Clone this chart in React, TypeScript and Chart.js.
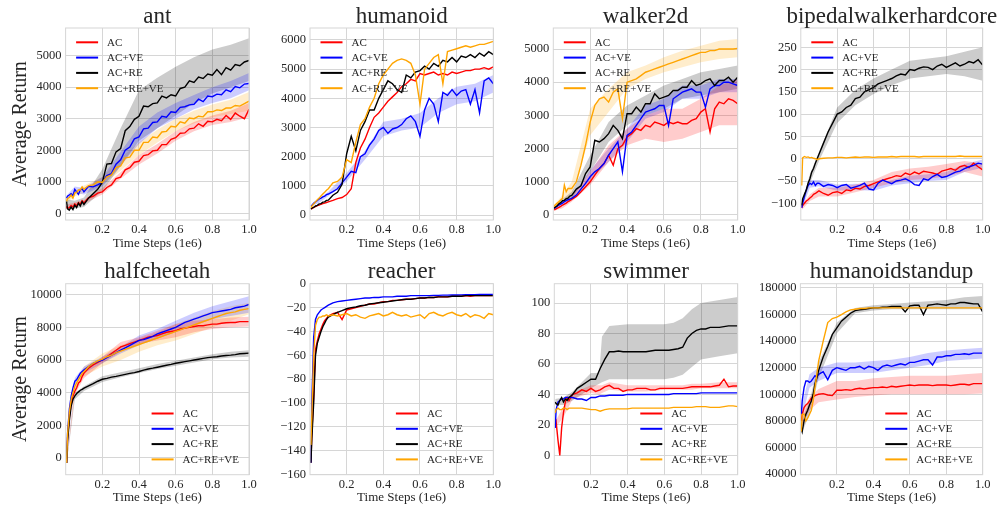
import React, { useEffect, useRef } from "react";
import { Chart, registerables } from "chart.js";

Chart.register(...registerables);

const SERIF = "'Liberation Serif', 'Times New Roman', Times, serif";
const TEXT = "#262626";
const GRID = "#d6d6d6";

// ---------- shared categories ----------
const seriesNames = ["AC", "AC+VE", "AC+RE", "AC+RE+VE"];
const seriesColors = ["#ff0000", "#0000ff", "#000000", "#ffa500"];
const bandColors = ["rgba(255,0,0,0.2)", "rgba(0,0,255,0.2)", "rgba(0,0,0,0.2)", "rgba(255,165,0,0.2)"];
const xTicks = [0.2, 0.4, 0.6, 0.8, 1.0];

// time steps (1e6) of the logged evaluations
const steps = [
  0.005, 0.01, 0.02, 0.03, 0.04, 0.05, 0.06, 0.07, 0.08, 0.09,
  0.1, 0.125, 0.15, 0.175, 0.2, 0.225, 0.25, 0.275, 0.3, 0.325,
  0.35, 0.375, 0.4, 0.425, 0.45, 0.475, 0.5, 0.525, 0.55, 0.575,
  0.6, 0.625, 0.65, 0.675, 0.7, 0.725, 0.75, 0.775, 0.8, 0.825,
  0.85, 0.875, 0.9, 0.925, 0.95, 0.975, 1.0,
];
const bandSteps = [0.005, 0.05, 0.1, 0.2, 0.3, 0.4, 0.5, 0.6, 0.7, 0.8, 0.9, 1.0];
const swimBandSteps = [0.005, 0.05, 0.1, 0.2, 0.245, 0.26, 0.3, 0.4, 0.5, 0.6, 0.65, 0.7, 0.75, 0.8, 0.9, 1.0];

// ---------- ant ----------
const antTicks = [0, 1000, 2000, 3000, 4000, 5000];
const antAC = [
  220, 160, 180, 250, 200, 300, 240, 340, 290, 400,
  330, 500, 540, 640, 680, 820, 900, 1100, 1150, 1380,
  1450, 1620, 1650, 1830, 1860, 1980, 2000, 2180, 2180, 2350,
  2400, 2540, 2550, 2680, 2700, 2840, 2760, 2920, 2900, 2980,
  2940, 3100, 2980, 3180, 3080, 3000, 3300,
];
const antVE = [
  480, 540, 580, 620, 560, 760, 680, 600, 740, 780,
  680, 860, 840, 900, 980, 1200, 1260, 1560, 1700, 2000,
  2100, 2360, 2420, 2680, 2700, 2880, 2900, 3080, 3050, 3220,
  3200, 3360, 3380, 3440, 3460, 3620, 3540, 3720, 3700, 3780,
  3760, 3920, 3860, 4020, 3980, 4100, 4120,
];
const antRE = [
  380, 150, 100, 200, 120, 260, 180, 320, 230, 370,
  280, 480, 620, 760, 980, 1560, 1580, 1950, 2050, 2620,
  2750, 2980, 3080, 3400, 3380, 3480, 3500, 3720, 3660, 3760,
  3720, 3960, 4000, 4200, 4150, 4320, 4280, 4420, 4380, 4560,
  4400, 4620, 4540, 4720, 4680, 4800, 4850,
];
const antREVE = [
  380, 470, 500, 580, 480, 640, 660, 740, 740, 840,
  760, 880, 900, 1000, 980, 1160, 1220, 1450, 1500, 1760,
  1780, 2000, 2000, 2250, 2250, 2420, 2400, 2580, 2600, 2760,
  2740, 2900, 2860, 3020, 3000, 3080, 3060, 3220, 3220, 3280,
  3260, 3340, 3340, 3420, 3400, 3480, 3560,
];
const antACLo = [150, 220, 300, 600, 1100, 1550, 1900, 2300, 2600, 2800, 2900, 3050];
const antACHi = [280, 340, 420, 800, 1300, 1850, 2200, 2600, 2900, 3100, 3250, 3500];
const antVELo = [400, 650, 600, 850, 1500, 2200, 2700, 3000, 3300, 3500, 3650, 3900];
const antVEHi = [560, 850, 800, 1150, 1950, 2750, 3200, 3500, 3750, 4000, 4200, 4450];
const antRELo = [100, 150, 200, 700, 1500, 2300, 2700, 3100, 3500, 3800, 4000, 4200];
const antREHi = [450, 400, 500, 1400, 2700, 3900, 4300, 4650, 4950, 5200, 5350, 5550];
const antREVELo = [320, 540, 650, 900, 1350, 1850, 2250, 2600, 2850, 3050, 3150, 3250];
const antREVEHi = [460, 700, 880, 1150, 1750, 2250, 2650, 3000, 3250, 3450, 3600, 3850];

// ---------- humanoid ----------
const humTicks = [0, 1000, 2000, 3000, 4000, 5000, 6000];
const humAC = [
  200, 220, 260, 290, 320, 340, 370, 390, 410, 430,
  450, 500, 560, 600, 700, 900, 1800, 2300, 2600, 3000,
  3350, 3500, 3700, 3900, 4050, 4200, 4400, 4500, 4650, 4600,
  4850, 4800, 4850, 4900, 4800, 4850, 4800, 4900, 4850, 4900,
  4950, 4950, 5000, 5000, 5050, 5000, 5080,
];
const humVE = [
  300, 330, 400, 450, 500, 550, 580, 620, 650, 700,
  720, 800, 900, 1100, 1300, 1500, 1450, 2000, 2100, 2400,
  2600, 2900, 3000, 2800, 2950, 3000, 3100, 3300, 3400, 3200,
  2700, 3600, 4000, 3800, 3200, 4200, 4100, 4300, 4100, 4250,
  4300, 3800, 4300, 3500, 4600, 4700, 4500,
];
const humRE = [
  200, 240, 260, 310, 330, 380, 390, 440, 450, 500,
  510, 680, 780, 1050, 2100, 2700, 2200, 2900, 3200, 3600,
  3600, 4000, 4300, 4600, 4500, 4300, 4200, 4800, 4700, 4900,
  4950, 5100, 5000, 5200, 5100, 5300, 5250, 5400, 5250, 5450,
  5400, 5500, 5400, 5550, 5450, 5600, 5500,
];
const humREVE = [
  250, 300, 380, 450, 520, 580, 650, 720, 780, 850,
  900, 1100, 1150, 1300, 1900, 1800, 2500, 3100, 3300, 3700,
  4000, 4500, 4800, 5000, 5200, 5300, 5350, 5300, 5200, 4800,
  3800, 5000, 5200, 5400, 5500, 4500, 5600, 5650, 5700, 5750,
  5800, 5750, 5800, 5850, 5850, 5900, 5950,
];
const humVELo = [280, 420, 650, 1150, 1900, 2700, 2900, 3000, 3500, 3800, 3900, 4200];
const humVEHi = [340, 560, 800, 1450, 2200, 3200, 3300, 3500, 4000, 4400, 4500, 4800];

// ---------- walker2d ----------
const walkTicks = [0, 1000, 2000, 3000, 4000, 5000];
const walkAC = [
  150, 170, 200, 230, 260, 300, 330, 360, 400, 430,
  470, 560, 700, 850, 1000, 1200, 1400, 1550, 1800, 1500,
  2000, 2100, 2350, 2450, 2600, 2550, 2700, 2650, 2800, 2750,
  2700, 2800, 2750, 2800, 2750, 2750, 2850, 2900, 3100, 3200,
  2500, 3200, 3400, 3350, 3500, 3450, 3350,
];
const walkVE = [
  200, 220, 260, 300, 330, 360, 400, 430, 460, 480,
  500, 600, 780, 950, 1150, 1300, 1400, 1550, 1800, 2000,
  2200, 1300, 2400, 2500, 2700, 2900, 3100, 3150, 3200, 3300,
  3300, 2700, 3500, 3600, 3700, 3750, 3800, 3700, 3700, 3250,
  3800, 3900, 3900, 4000, 4000, 3950, 3900,
];
const walkRE = [
  200, 240, 270, 340, 370, 430, 440, 490, 510, 570,
  590, 780, 880, 1250, 1450, 2250, 2200, 2300, 2450, 2700,
  2550, 2300, 3050, 3050, 3250, 3100, 3350, 3350, 3650, 3500,
  3550, 3600, 3750, 3750, 3850, 3850, 4050, 3900, 3950, 4050,
  4100, 3900, 4050, 4050, 4150, 4000, 4150,
];
const walkREVE = [
  250, 300, 350, 400, 450, 500, 900, 700, 800, 800,
  800, 1000, 1500, 2100, 2800, 3300, 3500, 3550, 3400, 3700,
  3800, 2900, 4000, 4050, 4100, 4200, 4300, 4350, 4400, 4450,
  4500, 4550, 4600, 4650, 4700, 4750, 4800, 4850, 4900, 4900,
  4950, 4950, 5000, 5000, 5000, 5000, 5020,
];
const walkACLo = [130, 200, 400, 900, 1600, 2100, 2300, 2200, 2300, 2500, 2700, 2700];
const walkACHi = [180, 300, 550, 1300, 2100, 2600, 3000, 3200, 3200, 3500, 3900, 4100];
const walkVELo = [180, 300, 450, 1050, 1600, 2200, 2900, 3100, 3500, 3500, 3700, 3700];
const walkVEHi = [230, 400, 550, 1350, 2000, 2600, 3300, 3500, 3900, 3900, 4100, 4100];
const walkRELo = [180, 350, 500, 1300, 2200, 2700, 3000, 3200, 3500, 3600, 3700, 3800];
const walkREHi = [230, 480, 700, 1800, 2800, 3300, 3600, 3900, 4100, 4300, 4400, 4500];
const walkREVELo = [200, 400, 600, 2400, 3100, 3800, 4100, 4300, 4450, 4600, 4700, 4750];
const walkREVEHi = [300, 600, 1000, 3200, 3800, 4300, 4500, 4750, 4950, 5100, 5250, 5300];

// ---------- bipedalwalkerhardcore ----------
const bipTicks = [-100, -50, 0, 50, 100, 150, 200, 250];
const bipAC = [
  -110, -105, -100, -95, -92, -88, -85, -80, -78, -75,
  -72, -78, -82, -76, -74, -78, -70, -72, -66, -68,
  -62, -60, -56, -52, -48, -45, -42, -38, -40, -32,
  -36, -30, -34, -28, -30, -32, -35, -28, -25, -22,
  -26, -18, -15, -20, -10, -18, -25,
];
const bipVE = [
  -110, -100, -85, -70, -60, -55, -58, -52, -60, -55,
  -55, -62, -58, -60, -65, -60, -58, -66, -63, -60,
  -55, -68, -70, -55, -48, -52, -56, -50, -48, -45,
  -50, -58, -60, -45, -48, -40, -35, -42, -40, -35,
  -30, -28, -22, -18, -15, -10, -12,
];
const bipRE = [
  -105, -90, -80, -70, -55, -45, -30, -22, -10, 0,
  10, 35, 60, 80, 100, 105, 115, 120, 135, 138,
  150, 155, 160, 168, 172, 176, 180, 186, 190, 188,
  200, 198, 203, 206, 205, 200, 208, 212, 205, 210,
  215, 208, 212, 218, 215, 222, 210,
];
const bipREVE = [
  -60, 2, 5, 3, 4, 2, 3, 1, 0, -2,
  0, 1, 2, 2, 3, 3, 2, 3, 4, 3,
  4, 4, 3, 4, 4, 4, 5, 4, 5, 5,
  5, 5, 4, 5, 5, 5, 5, 5, 5, 5,
  5, 6, 5, 5, 5, 5, 5,
];
const bipACLo = [-115, -95, -85, -85, -75, -65, -55, -48, -45, -40, -30, -40];
const bipACHi = [-105, -80, -65, -65, -58, -48, -30, -22, -18, -12, -5, -10];
const bipVELo = [-115, -65, -62, -72, -70, -72, -60, -55, -50, -48, -30, -20];
const bipVEHi = [-105, -48, -48, -58, -56, -58, -48, -38, -35, -30, -12, -2];
const bipRELo = [-110, -55, -5, 80, 120, 145, 165, 180, 185, 190, 185, 175];
const bipREHi = [-100, -35, 15, 115, 155, 180, 200, 220, 225, 230, 240, 250];

// ---------- halfcheetah ----------
const hcTicks = [0, 2000, 4000, 6000, 8000, 10000];
const hcAC = [
  -300, 1200, 2500, 3300, 3800, 4100, 4300, 4600, 4700, 5000,
  5200, 5500, 5700, 5850, 6000, 6200, 6400, 6600, 6800, 6900,
  7000, 7100, 7200, 7300, 7400, 7450, 7500, 7600, 7700, 7750,
  7800, 7900, 7950, 8000, 8050, 8100, 8100, 8150, 8200, 8200,
  8250, 8280, 8300, 8300, 8350, 8350, 8350,
];
const hcVE = [
  -300, 1500, 3000, 3800, 4300, 4700, 4800, 5000, 5200, 5300,
  5400, 5600, 5800, 5900, 6000, 6150, 6300, 6450, 6600, 6750,
  6900, 7050, 7200, 7250, 7350, 7450, 7600, 7700, 7800, 7900,
  8000, 8150, 8300, 8400, 8500, 8600, 8700, 8800, 8900, 8950,
  9000, 9050, 9100, 9200, 9250, 9300, 9400,
];
const hcRE = [
  -300, 1000, 2300, 3200, 3600, 3800, 3950, 4050, 4150, 4200,
  4280, 4420, 4550, 4700, 4820, 4880, 4950, 5000, 5060, 5120,
  5180, 5230, 5300, 5380, 5450, 5500, 5560, 5620, 5680, 5730,
  5800, 5850, 5900, 5950, 6000, 6050, 6100, 6150, 6180, 6200,
  6250, 6280, 6300, 6330, 6380, 6400, 6420,
];
const hcREVE = [
  -300, 1400, 2800, 3600, 4000, 4400, 4600, 4800, 5000, 5200,
  5300, 5600, 5800, 5950, 6050, 6200, 6300, 6450, 6550, 6650,
  6750, 6850, 6950, 7050, 7150, 7250, 7350, 7450, 7550, 7650,
  7750, 7850, 7950, 8050, 8150, 8250, 8350, 8450, 8550, 8650,
  8750, 8850, 8900, 8950, 9050, 9100, 9150,
];
const hcACLo = [-350, 3900, 4900, 5800, 6500, 7000, 7200, 7400, 7700, 7900, 8000, 8050];
const hcACHi = [-250, 4300, 5300, 6200, 7100, 7400, 7800, 8200, 8400, 8500, 8600, 8650];
const hcVELo = [-350, 4500, 5200, 5800, 6400, 6900, 7300, 7700, 8100, 8500, 8700, 8900];
const hcVEHi = [-250, 4900, 5600, 6200, 6800, 7500, 7900, 8400, 8900, 9300, 9600, 9900];
const hcRELo = [-350, 3600, 4100, 4650, 4950, 5200, 5450, 5650, 5850, 6050, 6150, 6200];
const hcREHi = [-250, 4000, 4400, 5000, 5250, 5500, 5750, 5950, 6150, 6350, 6500, 6600];
const hcREVELo = [-350, 4200, 5000, 5600, 6000, 6500, 6900, 7200, 7600, 8000, 8400, 8800];
const hcREVEHi = [-250, 4600, 5600, 6400, 6900, 7300, 7700, 8200, 8600, 9000, 9300, 9500];

// ---------- reacher ----------
const reachTicks = [-160, -140, -120, -100, -80, -60, -40, -20, 0];
const reachAC = [
  -150, -125, -95, -55, -48, -42, -38, -34, -31, -29,
  -27, -25, -24, -30, -22, -21, -20, -19, -18, -17,
  -17, -16, -15, -15, -14, -14, -13.5, -13, -13, -12.5,
  -12, -12, -11.5, -11.5, -11, -11, -11, -10.5, -10.5, -10.5,
  -10, -10.5, -10, -10, -10, -10, -10,
];
const reachVE = [
  -150, -100, -45, -30, -26, -24, -22, -21, -20, -19,
  -18, -16, -15, -14.5, -14, -13.5, -13, -12.5, -12, -12,
  -11.5, -11.5, -11, -11, -11, -10.5, -10.5, -10.5, -10, -10,
  -10, -10, -10, -9.8, -9.8, -9.6, -9.6, -9.5, -9.5, -9.4,
  -9.3, -9.3, -9.2, -9, -9, -9, -9,
];
const reachRE = [
  -150, -130, -100, -60, -50, -45, -40, -36, -33, -30,
  -28, -26, -24, -22.5, -21, -20, -19.5, -18.5, -18, -17,
  -16.5, -16, -15.5, -15, -14.5, -14, -13.5, -13, -13, -12.5,
  -12, -12, -11.5, -11.5, -11, -11, -11, -10.5, -10.5, -10.5,
  -10, -10, -10, -10, -10, -10, -10,
];
const reachREVE = [
  -135, -110, -60, -35, -30, -28, -28, -27, -27, -26,
  -27, -26, -27, -26, -25, -27, -26, -28, -29, -27,
  -26, -25, -27, -26, -24, -26, -27, -26, -28, -27,
  -26, -29, -25, -24, -26, -27, -25, -24, -26, -27,
  -25, -28, -26, -27, -29, -25, -26,
];

// ---------- swimmer ----------
const swimTicks = [0, 20, 40, 60, 80, 100];
const swimAC = [
  20, 22, 10, 0, 18, 28, 35, 38, 36, 38,
  40, 41, 43, 42, 44, 42, 43, 45, 46, 44,
  44, 42, 43, 43, 44, 44, 44, 43, 43, 44,
  44, 44, 44, 44, 44, 44.5, 45, 45, 45, 45,
  45, 45.5, 46, 50, 45, 45.5, 45.5,
];
const swimVE = [
  18, 30, 35, 36, 37, 37, 38, 38, 38, 38,
  38, 37, 37, 36, 38, 38, 39, 39, 39.5, 39.5,
  39.5, 39.5, 40, 40, 40, 40, 40, 40, 40, 40,
  40, 40, 40.5, 40.5, 40.5, 40.5, 40.5, 40.5, 41, 41,
  41, 41, 41, 41, 41, 41, 41,
];
const swimRE = [
  35, 34, 33, 36, 38, 35, 37, 36, 38, 39,
  40, 44, 46, 48, 50, 50, 57, 63, 68, 68,
  68.5, 68, 68, 68, 68, 68, 68, 68.5, 69, 69,
  69, 69, 69.5, 70, 71, 77, 80, 82, 83, 83,
  84, 84, 84, 84.5, 85, 85, 85,
];
const swimREVE = [
  28, 30, 31, 30, 30, 31, 31, 30, 31, 31,
  31, 31, 31, 30.5, 30, 30, 29, 30, 30.5, 30.5,
  30.5, 30.5, 30.5, 31, 31, 31, 31, 31, 31, 31,
  31, 31, 31.5, 31.5, 31.5, 31.5, 31.5, 32, 32, 32,
  31.5, 31.5, 31.5, 32, 32.5, 32.5, 32,
];
const swimACLo = [18, 25, 37, 41, 40, 41, 43, 42, 42, 43, 43, 43, 43, 44, 44, 44];
const swimACHi = [22, 32, 41, 46, 46, 46, 48, 46, 46, 46, 46, 46, 47, 47, 48, 48];
const swimRELo = [33, 33, 36, 44, 47, 48, 50, 50, 50, 50, 51, 53, 58, 63, 65, 67];
const swimREHi = [37, 38, 42, 54, 54, 78, 85, 86, 86, 86, 87, 90, 96, 100, 102, 104];

// ---------- humanoidstandup ----------
const hsTicks = [40000, 60000, 80000, 100000, 120000, 140000, 160000, 180000];
const hsAC = [
  80000, 85000, 90000, 92000, 93000, 95000, 97000, 98000, 99000, 99500,
  100000, 100500, 99500, 99000, 103000, 103000, 103500, 103000, 104000, 104500,
  104000, 104500, 105000, 105000, 105500, 105000, 106000, 105500, 106000, 106500,
  107000, 106500, 107000, 107000, 107000, 106500, 107000, 107000, 107000, 106500,
  107000, 107500, 107500, 107000, 108000, 108000, 108000,
];
const hsVE = [
  85000, 95000, 105000, 110000, 110000, 109000, 110000, 112000, 114000, 113000,
  115000, 117000, 111000, 118000, 120000, 119000, 118000, 120000, 120000, 121000,
  119000, 121000, 120000, 118000, 121000, 122000, 121000, 122000, 123000, 122000,
  124000, 124000, 125000, 126000, 126000, 122000, 128000, 128000, 129000, 129000,
  130000, 130000, 130500, 130000, 131000, 131000, 131000,
];
const hsRE = [
  75000, 72000, 80000, 85000, 88000, 92000, 95000, 100000, 108000, 112000,
  118000, 128000, 136000, 145000, 150000, 155000, 158000, 161000, 163000, 163500,
  164000, 164500, 165000, 165000, 165500, 165500, 166000, 166000, 166000, 162000,
  166500, 167000, 167000, 160000, 167000, 167500, 168000, 167500, 167000, 168000,
  168000, 169000, 169000, 168500, 168000, 168000, 162000,
];
const hsREVE = [
  72000, 85000, 85000, 80000, 82000, 85000, 88000, 95000, 105000, 115000,
  125000, 140000, 154000, 157000, 158000, 160000, 162000, 163500, 164000, 164500,
  164500, 165000, 165000, 165000, 165000, 165000, 165000, 165000, 165000, 165000,
  165000, 165000, 165000, 165000, 165000, 165000, 165000, 165000, 165000, 165000,
  165000, 165000, 165000, 165000, 165000, 165000, 165000,
];
const hsACLo = [75000, 88000, 94000, 96000, 98000, 99000, 100000, 100000, 100000, 100000, 100000, 100500];
const hsACHi = [85000, 98000, 104000, 110000, 110000, 112000, 113000, 114000, 114000, 114000, 115000, 116000];
const hsVELo = [80000, 105000, 110000, 116000, 116000, 116000, 118000, 120000, 122000, 125000, 126000, 127000];
const hsVEHi = [90000, 115000, 120000, 124000, 124000, 125000, 126000, 128000, 131000, 133000, 134000, 135000];
const hsRELo = [70000, 85000, 112000, 146000, 161000, 163000, 164000, 164000, 164000, 164000, 164000, 164000];
const hsREHi = [80000, 95000, 124000, 154000, 165000, 167000, 168000, 169000, 170000, 171000, 173000, 174000];

// ---------- panel definitions ----------
type Band = { x: number[]; lo: number[]; hi: number[] } | null;
interface Panel {
  title: string;
  box: [number, number, number, number];
  yMin: number;
  yMax: number;
  yTicks: number[];
  lines: number[][];
  bands: Band[];
  corner: "ul" | "lr";
  yLabel: boolean;
}
const band = (x: number[], lo: number[], hi: number[]): Band => ({ x, lo, hi });

const panels: Panel[] = [
  {
    title: "ant", box: [65.6, 28, 249, 220], yMin: -212, yMax: 5878, yTicks: antTicks,
    lines: [antAC, antVE, antRE, antREVE],
    bands: [band(bandSteps, antACLo, antACHi), band(bandSteps, antVELo, antVEHi), band(bandSteps, antRELo, antREHi), band(bandSteps, antREVELo, antREVEHi)],
    corner: "ul", yLabel: true,
  },
  {
    title: "humanoid", box: [310, 28, 493.3, 220], yMin: -171, yMax: 6411, yTicks: humTicks,
    lines: [humAC, humVE, humRE, humREVE],
    bands: [null, band(bandSteps, humVELo, humVEHi), null, null],
    corner: "ul", yLabel: false,
  },
  {
    title: "walker2d", box: [553.3, 28, 737.7, 220], yMin: -151, yMax: 5633, yTicks: walkTicks,
    lines: [walkAC, walkVE, walkRE, walkREVE],
    bands: [band(bandSteps, walkACLo, walkACHi), band(bandSteps, walkVELo, walkVEHi), band(bandSteps, walkRELo, walkREHi), band(bandSteps, walkREVELo, walkREVEHi)],
    corner: "ul", yLabel: false,
  },
  {
    title: "bipedalwalkerhardcore", box: [800.8, 28, 982.7, 220], yMin: -137.5, yMax: 293.3, yTicks: bipTicks,
    lines: [bipAC, bipVE, bipRE, bipREVE],
    bands: [band(bandSteps, bipACLo, bipACHi), band(bandSteps, bipVELo, bipVEHi), band(bandSteps, bipRELo, bipREHi), null],
    corner: "ul", yLabel: false,
  },
  {
    title: "halfcheetah", box: [65.7, 283.7, 249, 474.7], yMin: -1023, yMax: 10674, yTicks: hcTicks,
    lines: [hcAC, hcVE, hcRE, hcREVE],
    bands: [band(bandSteps, hcACLo, hcACHi), band(bandSteps, hcVELo, hcVEHi), band(bandSteps, hcRELo, hcREHi), band(bandSteps, hcREVELo, hcREVEHi)],
    corner: "lr", yLabel: true,
  },
  {
    title: "reacher", box: [310, 283.7, 493.3, 474.7], yMin: -160, yMax: 0, yTicks: reachTicks,
    lines: [reachAC, reachVE, reachRE, reachREVE],
    bands: [null, null, null, null],
    corner: "lr", yLabel: false,
  },
  {
    title: "swimmer", box: [554.3, 283.7, 737.7, 474.7], yMin: -12.7, yMax: 112.7, yTicks: swimTicks,
    lines: [swimAC, swimVE, swimRE, swimREVE],
    bands: [band(swimBandSteps, swimACLo, swimACHi), null, band(swimBandSteps, swimRELo, swimREHi), null],
    corner: "lr", yLabel: false,
  },
  {
    title: "humanoidstandup", box: [800.4, 283.7, 982.7, 474.7], yMin: 39500, yMax: 183200, yTicks: hsTicks,
    lines: [hsAC, hsVE, hsRE, hsREVE],
    bands: [band(bandSteps, hsACLo, hsACHi), band(bandSteps, hsVELo, hsVEHi), band(bandSteps, hsRELo, hsREHi), null],
    corner: "lr", yLabel: false,
  },
];

const fmt = (v: number) => (v < 0 ? "\u2212" + String(Math.abs(v)) : String(v));

const decor = {
  id: "panelDecor",
  afterDatasetsDraw(chart: any) {
    const { ctx, chartArea: ca } = chart;
    ctx.save();
    ctx.strokeStyle = GRID;
    ctx.lineWidth = 1;
    ctx.strokeRect(ca.left, ca.top, ca.right - ca.left, ca.bottom - ca.top);
    ctx.restore();
  },
  afterDraw(chart: any, _args: any, opts: any) {
    const { ctx, chartArea: ca } = chart;
    ctx.save();
    ctx.fillStyle = TEXT;
    ctx.font = `23px ${SERIF}`;
    ctx.textAlign = "center";
    ctx.textBaseline = "alphabetic";
    ctx.fillText(opts.title, (ca.left + ca.right) / 2, ca.top - 5.3);

    const items = chart.data.datasets.filter((d: any) => d.label);
    ctx.font = `11px ${SERIF}`;
    const rowH = 15.3;
    let x0: number;
    let y0: number;
    if (opts.corner === "ul") {
      x0 = ca.left + 10.5;
      y0 = ca.top + 14.3;
    } else {
      const maxW = Math.max(...items.map((d: any) => ctx.measureText(d.label).width));
      x0 = ca.right - 10 - maxW - 31;
      y0 = ca.bottom - 15.3 - (items.length - 1) * rowH;
    }
    items.forEach((d: any, i: number) => {
      const y = y0 + i * rowH;
      ctx.strokeStyle = d.borderColor;
      ctx.lineWidth = 2;
      ctx.beginPath();
      ctx.moveTo(x0, y);
      ctx.lineTo(x0 + 22, y);
      ctx.stroke();
      ctx.fillStyle = TEXT;
      ctx.textAlign = "left";
      ctx.textBaseline = "middle";
      ctx.fillText(d.label, x0 + 31, y + 0.5);
    });
    ctx.restore();
  },
};

function PanelChart({ p }: { p: Panel }) {
  const ref = useRef<HTMLCanvasElement>(null);
  const [L, T, R, B] = p.box;
  const cLeft = Math.floor(L) - 62;
  const cTop = Math.floor(T) - 26;
  const width = Math.ceil(R - cLeft + 16);
  const height = Math.ceil(B - cTop + 31);

  useEffect(() => {
    const canvas = ref.current;
    if (!canvas) return;
    const yW = L - cLeft;
    const padR = width - (R - cLeft);
    const padTop = T - cTop;
    const xH = height - (B - cTop);
    const xTitlePadB = Math.max(0, cTop + height - 6.5 - (B + 23.3));
    const yTitlePadT = Math.max(0, 20.25 - 10 - cLeft);

    const datasets: any[] = [];
    p.bands.forEach((b, i) => {
      if (!b) return;
      datasets.push({
        data: b.x.map((x, k) => ({ x, y: b.lo[k] })),
        borderWidth: 0, borderColor: "rgba(0,0,0,0)", pointRadius: 0, fill: false, order: 10,
      });
      datasets.push({
        data: b.x.map((x, k) => ({ x, y: b.hi[k] })),
        borderWidth: 0, borderColor: "rgba(0,0,0,0)", pointRadius: 0,
        fill: "-1", backgroundColor: bandColors[i], order: 10,
      });
    });
    p.lines.forEach((ys, i) => {
      datasets.push({
        label: seriesNames[i],
        data: steps.map((x, k) => ({ x, y: ys[k] })),
        borderColor: seriesColors[i],
        borderWidth: 1.4,
        pointRadius: 0,
        fill: false,
        order: 4 - i,
      });
    });

    const tickFont = { family: SERIF, size: 12.5 };
    const chart = new Chart(canvas, {
      type: "line",
      data: { datasets },
      plugins: [decor],
      options: {
        animation: false,
        responsive: false,
        devicePixelRatio: 1,
        events: [],
        layout: { padding: { left: 0, right: padR, top: padTop, bottom: 0 } },
        plugins: {
          legend: { display: false },
          tooltip: { enabled: false },
          title: { display: false },
          panelDecor: { title: p.title, corner: p.corner },
        } as any,
        scales: {
          x: {
            type: "linear",
            min: 0,
            max: 1,
            afterBuildTicks: (s: any) => {
              s.ticks = xTicks.map((v) => ({ value: v }));
            },
            afterFit: (s: any) => {
              s.height = xH;
            },
            ticks: { autoSkip: false, padding: 2.5, font: tickFont, color: TEXT, maxRotation: 0, callback: (v: any) => Number(v).toFixed(1) },
            grid: { color: GRID, lineWidth: 1, drawTicks: false },
            border: { display: false },
            title: {
              display: true, text: "Time Steps (1e6)", color: TEXT,
              font: { family: SERIF, size: 13, lineHeight: 1 },
              padding: { top: 0, bottom: xTitlePadB },
            },
          },
          y: {
            type: "linear",
            min: p.yMin,
            max: p.yMax,
            afterBuildTicks: (s: any) => {
              s.ticks = p.yTicks.map((v) => ({ value: v }));
            },
            afterFit: (s: any) => {
              s.width = yW;
            },
            ticks: { autoSkip: false, padding: 4, font: tickFont, color: TEXT, callback: (v: any) => fmt(Number(v)) },
            grid: { color: GRID, lineWidth: 1, drawTicks: false },
            border: { display: false },
            title: {
              display: p.yLabel, text: "Average Return", color: TEXT,
              font: { family: SERIF, size: 20, lineHeight: 1 },
              padding: { top: yTitlePadT, bottom: 0 },
            },
          },
        },
      } as any,
    });
    return () => chart.destroy();
  }, []);

  return (
    <canvas
      ref={ref}
      width={width}
      height={height}
      style={{ position: "absolute", left: cLeft, top: cTop, width, height }}
    />
  );
}

export default function App() {
  return (
    <div style={{ position: "absolute", left: 0, top: 0, width: 1003, height: 506, background: "#ffffff", overflow: "hidden" }}>
      {panels.map((p) => (
        <PanelChart key={p.title} p={p} />
      ))}
    </div>
  );
}
